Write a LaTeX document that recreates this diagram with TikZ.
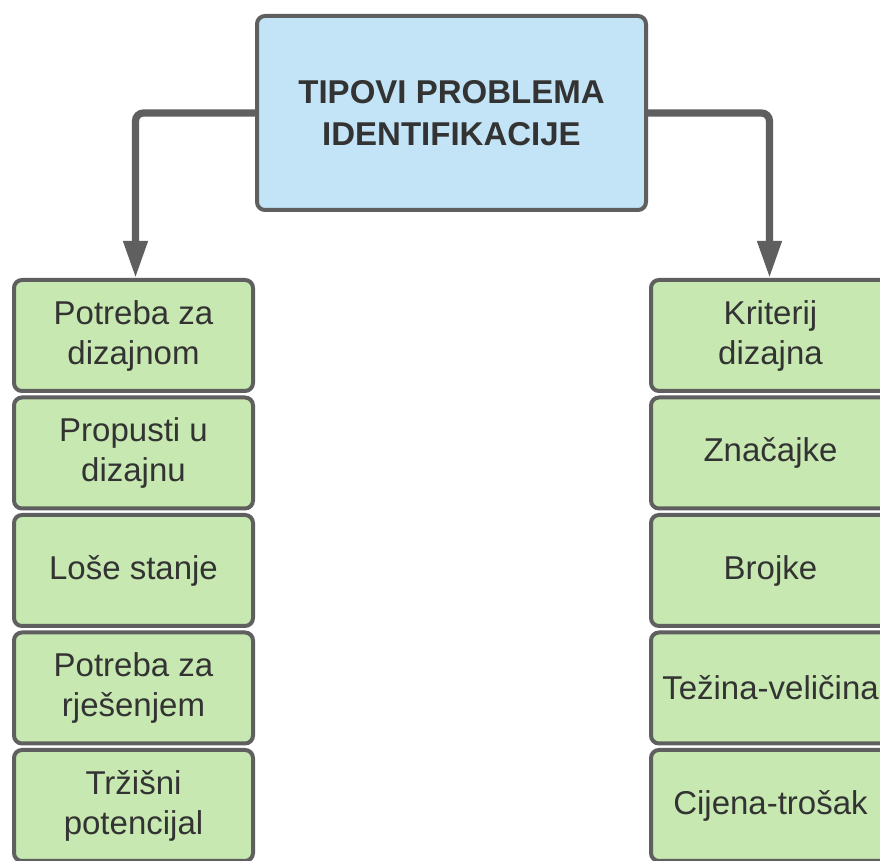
\documentclass[tikz,border=0pt]{standalone}
\usepackage{fontspec}
\setmainfont{Liberation Sans}
\usetikzlibrary{positioning,arrows.meta}

\definecolor{edgegray}{HTML}{5F5F5F}
\definecolor{textgray}{HTML}{333333}
\definecolor{headblue}{HTML}{C3E4F6}
\definecolor{itemgreen}{HTML}{C7E8B0}

\tikzset{
  headbox/.style={draw=edgegray, line width=2pt, rounded corners=4pt, fill=headblue,
    text=textgray, align=center, minimum width=194.5pt, minimum height=97pt,
    font=\fontsize{16.5}{21}\selectfont\bfseries},
  itembox/.style={draw=edgegray, line width=2pt, rounded corners=4pt, fill=itemgreen,
    text=textgray, align=center, minimum width=119.5pt, minimum height=55.5pt,
    inner sep=0pt, font=\fontsize{16.5}{20}\selectfont},
  conn/.style={draw=edgegray, line width=3.6pt, rounded corners=4pt,
    -{Triangle[length=18.5pt, width=11.5pt]}}
}

\begin{document}
\begin{tikzpicture}[x=0.5pt, y=-0.5pt]
  \clip (0,0) rectangle (880,861);
  \fill[white] (0,0) rectangle (880,861);

  % top box
  \node[headbox] (head) at (451.5,113) {TIPOVI PROBLEMA\\IDENTIFIKACIJE};

  % left column
  \node[itembox] (l1) at (133.5,335.5) {Potreba za\\dizajnom};
  \node[itembox, below=1.25pt of l1] (l2) {Propusti u\\dizajnu};
  \node[itembox, below=1.25pt of l2] (l3) {Loše stanje};
  \node[itembox, below=1.25pt of l3] (l4) {Potreba za\\rješenjem};
  \node[itembox, below=1.25pt of l4] (l5) {Tržišni\\potencijal};

  % right column
  \node[itembox] (r1) at (770.5,335.5) {Kriterij\\dizajna};
  \node[itembox, below=1.25pt of r1] (r2) {Značajke};
  \node[itembox, below=1.25pt of r2] (r3) {Brojke};
  \node[itembox, below=1.25pt of r3] (r4) {Težina-veličina};
  \node[itembox, below=1.25pt of r4] (r5) {Cijena-trošak};

  % connectors
  \draw[conn] (head.west) -| ([xshift=1pt]l1.north);
  \draw[conn] (head.east) -| ([xshift=-0.5pt]r1.north);
\end{tikzpicture}
\end{document}
